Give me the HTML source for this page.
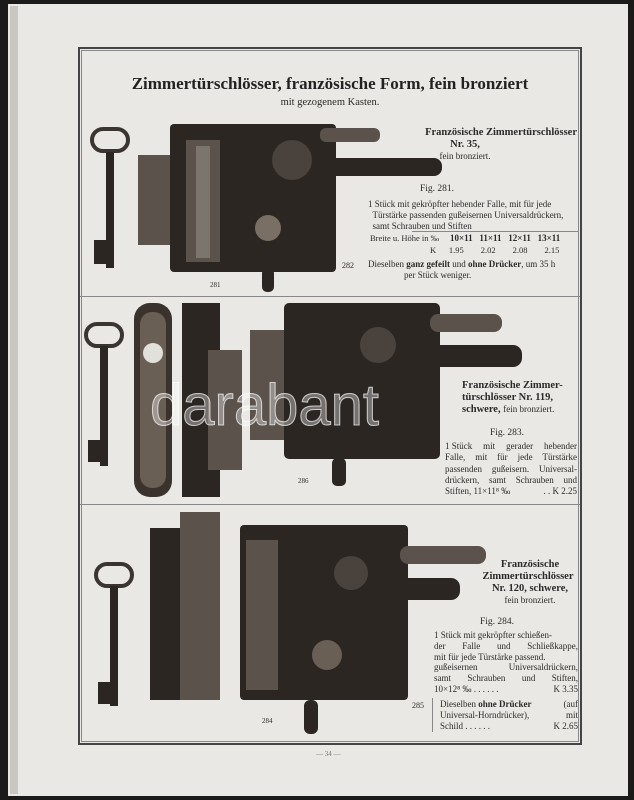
<!DOCTYPE html>
<html><head><meta charset="utf-8"><style>
*{margin:0;padding:0;box-sizing:border-box}
body{width:634px;height:800px;background:#1a1a1a;position:relative;overflow:hidden;font-family:"Liberation Serif",serif;color:#2a2a2a}
.pg{position:absolute;left:8px;top:4px;width:620px;height:792px;background:#e9e8e4}
.a{position:absolute}
.t{position:absolute;font-size:9.5px;line-height:11.5px;white-space:nowrap}
.b{font-weight:bold}
.dk{background:#2b2622}
.mid{background:#5a524b}
.lt{background:#bdb8b0}
.j{display:flex;justify-content:space-between}
</style></head><body>
<div class="pg"></div>
<div class="a" style="left:10px;top:6px;width:8px;height:788px;background:#c9c7c2"></div>
<div class="a" style="left:78px;top:47px;width:504px;height:698px;border:2px solid #444"></div>
<div class="a" style="left:81px;top:50px;width:498px;height:692px;border:1px solid #888"></div>
<div class="a" style="left:80px;top:296px;width:500px;height:1px;background:#888"></div>
<div class="a" style="left:80px;top:504px;width:500px;height:1px;background:#888"></div>
<div class="a" style="left:80px;top:74px;width:500px;text-align:center;font-size:17px;font-weight:bold;color:#222">Zimmertürschlösser, französische Form, fein bronziert</div>
<div class="a" style="left:80px;top:97px;width:500px;text-align:center;font-size:10.5px">mit gezogenem Kasten.</div>

<!-- section 1 -->
<div class="a" style="left:90px;top:127px;width:40px;height:26px;border:4px solid #3a3530;border-radius:14px"></div>
<div class="a dk" style="left:106px;top:152px;width:8px;height:116px"></div>
<div class="a dk" style="left:94px;top:240px;width:14px;height:24px"></div>
<div class="a mid" style="left:138px;top:155px;width:40px;height:90px"></div>
<div class="a dk" style="left:170px;top:124px;width:166px;height:148px;border-radius:4px"></div>
<div class="a mid" style="left:186px;top:140px;width:34px;height:122px"></div>
<div class="a lt" style="left:196px;top:146px;width:14px;height:112px;opacity:.35"></div>
<div class="a" style="left:255px;top:215px;width:26px;height:26px;border-radius:50%;background:#7a6f64"></div>
<div class="a mid" style="left:320px;top:128px;width:60px;height:14px;border-radius:6px"></div>
<div class="a dk" style="left:290px;top:158px;width:152px;height:18px;border-radius:8px"></div>
<div class="a" style="left:272px;top:140px;width:40px;height:40px;border-radius:50%;background:#4a433d"></div>
<div class="a dk" style="left:262px;top:268px;width:12px;height:24px;border-radius:5px"></div>
<div class="t" style="left:210px;top:280px;font-size:7px">281</div>
<div class="t b" style="left:405px;top:127px;width:172px;text-align:right;font-size:10.5px">Französische Zimmertürschlösser</div>
<div class="t b" style="left:405px;top:139px;width:120px;text-align:center;font-size:10.5px">Nr. 35,</div>
<div class="t" style="left:405px;top:151px;width:120px;text-align:center;font-size:9px">fein bronziert.</div>
<div class="t" style="left:420px;top:184px;font-size:9.5px">Fig. 281.</div>
<div class="t" style="left:368px;top:199px;width:210px;font-size:9px;line-height:11px">1 Stück mit gekröpfter hebender Falle, mit für jede<br>&nbsp;&nbsp;Türstärke passenden gußeisernen Universaldrückern,<br>&nbsp;&nbsp;samt Schrauben und Stiften</div>
<div class="a" style="left:412px;top:231px;width:166px;height:1px;background:#888"></div>
<div class="t" style="left:370px;top:233px;font-size:8.5px">Breite u. Höhe in ‰</div>
<div class="t b" style="left:450px;top:233px;font-size:9px">10×11&nbsp;&nbsp;&nbsp;11×11&nbsp;&nbsp;&nbsp;12×11&nbsp;&nbsp;&nbsp;13×11</div>
<div class="t" style="left:430px;top:245px;font-size:8.5px">K&nbsp;&nbsp;&nbsp;&nbsp;&nbsp;&nbsp;1.95&nbsp;&nbsp;&nbsp;&nbsp;&nbsp;&nbsp;&nbsp;&nbsp;2.02&nbsp;&nbsp;&nbsp;&nbsp;&nbsp;&nbsp;&nbsp;&nbsp;2.08&nbsp;&nbsp;&nbsp;&nbsp;&nbsp;&nbsp;&nbsp;&nbsp;2.15</div>
<div class="t" style="left:342px;top:260px;font-size:8px">282</div>
<div class="t" style="left:368px;top:259px;width:210px;font-size:9px;line-height:11px">Dieselben <b>ganz gefeilt</b> und <b>ohne Drücker</b>, um 35 h<br>&nbsp;&nbsp;&nbsp;&nbsp;&nbsp;&nbsp;&nbsp;&nbsp;&nbsp;&nbsp;&nbsp;&nbsp;&nbsp;&nbsp;&nbsp;&nbsp;per Stück weniger.</div>

<!-- section 2 -->
<div class="a" style="left:84px;top:322px;width:40px;height:26px;border:4px solid #3a3530;border-radius:14px"></div>
<div class="a dk" style="left:100px;top:346px;width:8px;height:120px"></div>
<div class="a dk" style="left:88px;top:440px;width:14px;height:22px"></div>
<div class="a" style="left:134px;top:303px;width:38px;height:194px;background:#3a332d;border-radius:16px"></div>
<div class="a" style="left:140px;top:312px;width:26px;height:176px;background:#6a5f55;border-radius:12px"></div>
<div class="a" style="left:143px;top:343px;width:20px;height:20px;border-radius:50%;background:#e2e0da"></div>
<div class="a dk" style="left:182px;top:303px;width:38px;height:194px"></div>
<div class="a mid" style="left:208px;top:350px;width:34px;height:120px"></div>
<div class="a mid" style="left:250px;top:330px;width:40px;height:110px"></div>
<div class="a dk" style="left:284px;top:303px;width:156px;height:156px;border-radius:5px"></div>
<div class="a mid" style="left:430px;top:314px;width:72px;height:18px;border-radius:8px"></div>
<div class="a dk" style="left:370px;top:345px;width:152px;height:22px;border-radius:9px"></div>
<div class="a" style="left:360px;top:327px;width:36px;height:36px;border-radius:50%;background:#4a433d"></div>
<div class="a dk" style="left:332px;top:458px;width:14px;height:28px;border-radius:5px"></div>
<div class="t" style="left:298px;top:476px;font-size:7px">286</div>
<div class="t b" style="left:462px;top:380px;font-size:10.5px">Französische Zimmer-</div>
<div class="t b" style="left:462px;top:392px;font-size:10.5px">türschlösser Nr. 119,</div>
<div class="t" style="left:462px;top:404px;font-size:10.5px"><b>schwere,</b> <span style="font-size:9px">fein bronziert.</span></div>
<div class="t" style="left:490px;top:428px;font-size:9.5px">Fig. 283.</div>
<div class="t" style="left:445px;top:441px;width:132px;font-size:9px;line-height:11.3px">
<div class="j"><span>1 Stück</span><span>mit</span><span>gerader</span><span>hebender</span></div>
<div class="j"><span>Falle,</span><span>mit</span><span>für</span><span>jede</span><span>Türstärke</span></div>
<div class="j"><span>passenden</span><span>gußeisern.</span><span>Universal-</span></div>
<div class="j"><span>drückern,</span><span>samt</span><span>Schrauben</span><span>und</span></div>
<div class="j"><span>Stiften, 11×11⁸ ‰</span><span>. . K 2.25</span></div></div>

<!-- section 3 -->
<div class="a" style="left:94px;top:562px;width:40px;height:26px;border:4px solid #3a3530;border-radius:14px"></div>
<div class="a dk" style="left:110px;top:586px;width:8px;height:120px"></div>
<div class="a dk" style="left:98px;top:682px;width:14px;height:22px"></div>
<div class="a dk" style="left:150px;top:528px;width:70px;height:172px"></div>
<div class="a mid" style="left:180px;top:512px;width:40px;height:188px"></div>
<div class="a dk" style="left:240px;top:525px;width:168px;height:175px;border-radius:4px"></div>
<div class="a mid" style="left:246px;top:540px;width:32px;height:150px"></div>
<div class="a mid" style="left:400px;top:546px;width:86px;height:18px;border-radius:8px"></div>
<div class="a dk" style="left:320px;top:578px;width:140px;height:22px;border-radius:9px"></div>
<div class="a" style="left:334px;top:556px;width:34px;height:34px;border-radius:50%;background:#4a433d"></div>
<div class="a" style="left:312px;top:640px;width:30px;height:30px;border-radius:50%;background:#6a5f55"></div>
<div class="a dk" style="left:304px;top:700px;width:14px;height:34px;border-radius:6px"></div>
<div class="t" style="left:262px;top:716px;font-size:7px">284</div>
<div class="t b" style="left:480px;top:559px;width:100px;text-align:center;font-size:10.5px">Französische</div>
<div class="t b" style="left:476px;top:571px;width:104px;text-align:center;font-size:10.5px">Zimmertürschlösser</div>
<div class="t b" style="left:480px;top:583px;width:100px;text-align:center;font-size:10.5px">Nr. 120, schwere,</div>
<div class="t" style="left:480px;top:595px;width:100px;text-align:center;font-size:9px">fein bronziert.</div>
<div class="t" style="left:480px;top:617px;font-size:9.5px">Fig. 284.</div>
<div class="t" style="left:434px;top:630px;width:144px;font-size:9px;line-height:10.8px">
<div class="j"><span>1 Stück mit gekröpfter schießen-</span></div>
<div class="j"><span>der</span><span>Falle</span><span>und</span><span>Schließkappe,</span></div>
<div class="j"><span>mit für jede Türstärke passend.</span></div>
<div class="j"><span>gußeisernen</span><span>Universaldrückern,</span></div>
<div class="j"><span>samt</span><span>Schrauben</span><span>und</span><span>Stiften,</span></div>
<div class="j"><span>10×12⁸ ‰ . . . . . .</span><span>K 3.35</span></div></div>
<div class="t" style="left:412px;top:700px;font-size:8px">285</div>
<div class="a" style="left:432px;top:698px;width:1px;height:34px;background:#888"></div>
<div class="t" style="left:440px;top:699px;width:138px;font-size:9px;line-height:11px">
<div class="j"><span>Dieselben <b>ohne Drücker</b></span><span>(auf</span></div>
<div class="j"><span>Universal-Horndrücker),</span><span>mit</span></div>
<div class="j"><span>Schild . . . . . .</span><span>K 2.65</span></div></div>

<div class="t" style="left:316px;top:749px;font-size:7px;color:#777">— 34 —</div>
<div class="a" style="left:150px;top:372px;font-family:'Liberation Sans',sans-serif;font-size:58px;color:rgba(255,255,255,.35);-webkit-text-stroke:1px rgba(255,255,255,.7)">darabant</div>
</body></html>
